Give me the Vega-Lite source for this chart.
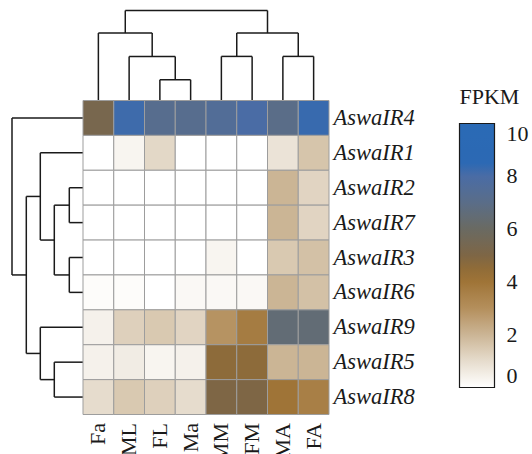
{
  "$schema": "https://vega.github.io/schema/vega-lite/v6.json",
  "padding": {"left": 11, "top": 9.5, "right": 2, "bottom": 0},
  "background": "white",
  "config": {"view": {"stroke": null}, "font": "Liberation Serif"},
  "datasets": {
    "heat": [
      {"gene": "AswaIR4", "tissue": "Fa", "fpkm": 5.3}, {"gene": "AswaIR4", "tissue": "ML", "fpkm": 8.2}, {"gene": "AswaIR4", "tissue": "FL", "fpkm": 7.2}, {"gene": "AswaIR4", "tissue": "Ma", "fpkm": 7.2}, {"gene": "AswaIR4", "tissue": "MM", "fpkm": 7.5}, {"gene": "AswaIR4", "tissue": "FM", "fpkm": 8.0}, {"gene": "AswaIR4", "tissue": "MA", "fpkm": 7.0}, {"gene": "AswaIR4", "tissue": "FA", "fpkm": 8.3},
      {"gene": "AswaIR1", "tissue": "Fa", "fpkm": 0}, {"gene": "AswaIR1", "tissue": "ML", "fpkm": 0.3}, {"gene": "AswaIR1", "tissue": "FL", "fpkm": 1.1}, {"gene": "AswaIR1", "tissue": "Ma", "fpkm": 0}, {"gene": "AswaIR1", "tissue": "MM", "fpkm": 0}, {"gene": "AswaIR1", "tissue": "FM", "fpkm": 0}, {"gene": "AswaIR1", "tissue": "MA", "fpkm": 0.8}, {"gene": "AswaIR1", "tissue": "FA", "fpkm": 1.6},
      {"gene": "AswaIR2", "tissue": "Fa", "fpkm": 0}, {"gene": "AswaIR2", "tissue": "ML", "fpkm": 0}, {"gene": "AswaIR2", "tissue": "FL", "fpkm": 0}, {"gene": "AswaIR2", "tissue": "Ma", "fpkm": 0}, {"gene": "AswaIR2", "tissue": "MM", "fpkm": 0}, {"gene": "AswaIR2", "tissue": "FM", "fpkm": 0}, {"gene": "AswaIR2", "tissue": "MA", "fpkm": 2.0}, {"gene": "AswaIR2", "tissue": "FA", "fpkm": 1.2},
      {"gene": "AswaIR7", "tissue": "Fa", "fpkm": 0}, {"gene": "AswaIR7", "tissue": "ML", "fpkm": 0}, {"gene": "AswaIR7", "tissue": "FL", "fpkm": 0}, {"gene": "AswaIR7", "tissue": "Ma", "fpkm": 0}, {"gene": "AswaIR7", "tissue": "MM", "fpkm": 0}, {"gene": "AswaIR7", "tissue": "FM", "fpkm": 0}, {"gene": "AswaIR7", "tissue": "MA", "fpkm": 2.0}, {"gene": "AswaIR7", "tissue": "FA", "fpkm": 1.2},
      {"gene": "AswaIR3", "tissue": "Fa", "fpkm": 0}, {"gene": "AswaIR3", "tissue": "ML", "fpkm": 0}, {"gene": "AswaIR3", "tissue": "FL", "fpkm": 0}, {"gene": "AswaIR3", "tissue": "Ma", "fpkm": 0}, {"gene": "AswaIR3", "tissue": "MM", "fpkm": 0.3}, {"gene": "AswaIR3", "tissue": "FM", "fpkm": 0}, {"gene": "AswaIR3", "tissue": "MA", "fpkm": 1.5}, {"gene": "AswaIR3", "tissue": "FA", "fpkm": 1.7},
      {"gene": "AswaIR6", "tissue": "Fa", "fpkm": 0.1}, {"gene": "AswaIR6", "tissue": "ML", "fpkm": 0.1}, {"gene": "AswaIR6", "tissue": "FL", "fpkm": 0}, {"gene": "AswaIR6", "tissue": "Ma", "fpkm": 0.2}, {"gene": "AswaIR6", "tissue": "MM", "fpkm": 0.2}, {"gene": "AswaIR6", "tissue": "FM", "fpkm": 0.2}, {"gene": "AswaIR6", "tissue": "MA", "fpkm": 2.0}, {"gene": "AswaIR6", "tissue": "FA", "fpkm": 1.7},
      {"gene": "AswaIR9", "tissue": "Fa", "fpkm": 0.4}, {"gene": "AswaIR9", "tissue": "ML", "fpkm": 1.3}, {"gene": "AswaIR9", "tissue": "FL", "fpkm": 1.5}, {"gene": "AswaIR9", "tissue": "Ma", "fpkm": 1.2}, {"gene": "AswaIR9", "tissue": "MM", "fpkm": 2.9}, {"gene": "AswaIR9", "tissue": "FM", "fpkm": 3.7}, {"gene": "AswaIR9", "tissue": "MA", "fpkm": 6.5}, {"gene": "AswaIR9", "tissue": "FA", "fpkm": 6.5},
      {"gene": "AswaIR5", "tissue": "Fa", "fpkm": 0.4}, {"gene": "AswaIR5", "tissue": "ML", "fpkm": 0.55}, {"gene": "AswaIR5", "tissue": "FL", "fpkm": 0.3}, {"gene": "AswaIR5", "tissue": "Ma", "fpkm": 0.4}, {"gene": "AswaIR5", "tissue": "MM", "fpkm": 4.6}, {"gene": "AswaIR5", "tissue": "FM", "fpkm": 4.6}, {"gene": "AswaIR5", "tissue": "MA", "fpkm": 2.0}, {"gene": "AswaIR5", "tissue": "FA", "fpkm": 2.0},
      {"gene": "AswaIR8", "tissue": "Fa", "fpkm": 1.0}, {"gene": "AswaIR8", "tissue": "ML", "fpkm": 1.5}, {"gene": "AswaIR8", "tissue": "FL", "fpkm": 1.3}, {"gene": "AswaIR8", "tissue": "Ma", "fpkm": 1.0}, {"gene": "AswaIR8", "tissue": "MM", "fpkm": 5.0}, {"gene": "AswaIR8", "tissue": "FM", "fpkm": 5.0}, {"gene": "AswaIR8", "tissue": "MA", "fpkm": 4.0}, {"gene": "AswaIR8", "tissue": "FA", "fpkm": 3.6}
    ],
    "coldendro": [
      {"x1": 2.5, "x2": 2.5, "y1": 0, "y2": 20.7},
      {"x1": 3.5, "x2": 3.5, "y1": 0, "y2": 20.7},
      {"x1": 2.5, "x2": 3.5, "y1": 20.7, "y2": 20.7},
      {"x1": 1.5, "x2": 1.5, "y1": 0, "y2": 44},
      {"x1": 3.0, "x2": 3.0, "y1": 20.7, "y2": 44},
      {"x1": 1.5, "x2": 3.0, "y1": 44, "y2": 44},
      {"x1": 0.5, "x2": 0.5, "y1": 0, "y2": 67.3},
      {"x1": 2.25, "x2": 2.25, "y1": 44, "y2": 67.3},
      {"x1": 0.5, "x2": 2.25, "y1": 67.3, "y2": 67.3},
      {"x1": 4.5, "x2": 4.5, "y1": 0, "y2": 44},
      {"x1": 5.5, "x2": 5.5, "y1": 0, "y2": 44},
      {"x1": 4.5, "x2": 5.5, "y1": 44, "y2": 44},
      {"x1": 6.5, "x2": 6.5, "y1": 0, "y2": 44},
      {"x1": 7.5, "x2": 7.5, "y1": 0, "y2": 44},
      {"x1": 6.5, "x2": 7.5, "y1": 44, "y2": 44},
      {"x1": 5.0, "x2": 5.0, "y1": 44, "y2": 67.3},
      {"x1": 7.0, "x2": 7.0, "y1": 44, "y2": 67.3},
      {"x1": 5.0, "x2": 7.0, "y1": 67.3, "y2": 67.3},
      {"x1": 1.375, "x2": 1.375, "y1": 67.3, "y2": 89.8},
      {"x1": 6.0, "x2": 6.0, "y1": 67.3, "y2": 89.8},
      {"x1": 1.375, "x2": 6.0, "y1": 89.8, "y2": 89.8}
    ],
    "rowdendro": [
      {"h1": 0, "h2": 13.7, "r1": 2.5, "r2": 2.5},
      {"h1": 0, "h2": 13.7, "r1": 3.5, "r2": 3.5},
      {"h1": 13.7, "h2": 13.7, "r1": 2.5, "r2": 3.5},
      {"h1": 0, "h2": 13.7, "r1": 4.5, "r2": 4.5},
      {"h1": 0, "h2": 13.7, "r1": 5.5, "r2": 5.5},
      {"h1": 13.7, "h2": 13.7, "r1": 4.5, "r2": 5.5},
      {"h1": 13.7, "h2": 28.7, "r1": 3.0, "r2": 3.0},
      {"h1": 13.7, "h2": 28.7, "r1": 5.0, "r2": 5.0},
      {"h1": 28.7, "h2": 28.7, "r1": 3.0, "r2": 5.0},
      {"h1": 0, "h2": 42.7, "r1": 1.5, "r2": 1.5},
      {"h1": 28.7, "h2": 42.7, "r1": 4.0, "r2": 4.0},
      {"h1": 42.7, "h2": 42.7, "r1": 1.5, "r2": 4.0},
      {"h1": 0, "h2": 28.7, "r1": 7.5, "r2": 7.5},
      {"h1": 0, "h2": 28.7, "r1": 8.5, "r2": 8.5},
      {"h1": 28.7, "h2": 28.7, "r1": 7.5, "r2": 8.5},
      {"h1": 0, "h2": 42.7, "r1": 6.5, "r2": 6.5},
      {"h1": 28.7, "h2": 42.7, "r1": 8.0, "r2": 8.0},
      {"h1": 42.7, "h2": 42.7, "r1": 6.5, "r2": 8.0},
      {"h1": 42.7, "h2": 56.7, "r1": 2.75, "r2": 2.75},
      {"h1": 42.7, "h2": 56.7, "r1": 7.25, "r2": 7.25},
      {"h1": 56.7, "h2": 56.7, "r1": 2.75, "r2": 7.25},
      {"h1": 0, "h2": 71, "r1": 0.5, "r2": 0.5},
      {"h1": 56.7, "h2": 71, "r1": 5.0, "r2": 5.0},
      {"h1": 71, "h2": 71, "r1": 0.5, "r2": 5.0}
    ]
  },
  "columns": 2,
  "spacing": 0,
  "align": "each",
  "bounds": "flush",
  "concat": [
    {
      "width": 71,
      "height": 90,
      "data": {"values": []},
      "mark": {"type": "rect", "opacity": 0},
      "encoding": {}
    },
    {
      "width": 246,
      "height": 90,
      "data": {"name": "coldendro"},
      "mark": {"type": "rule", "color": "#1a1a1a", "strokeWidth": 1.5},
      "encoding": {
        "x": {"field": "x1", "type": "quantitative", "scale": {"domain": [0, 8], "nice": false, "zero": false}, "axis": null},
        "x2": {"field": "x2"},
        "y": {"field": "y1", "type": "quantitative", "scale": {"domain": [0, 89.8], "nice": false, "zero": false}, "axis": null},
        "y2": {"field": "y2"}
      }
    },
    {
      "width": 71,
      "height": 314,
      "data": {"name": "rowdendro"},
      "mark": {"type": "rule", "color": "#1a1a1a", "strokeWidth": 1.5},
      "encoding": {
        "x": {"field": "h1", "type": "quantitative", "scale": {"domain": [0, 71], "nice": false, "zero": false, "reverse": true}, "axis": null},
        "x2": {"field": "h2"},
        "y": {"field": "r1", "type": "quantitative", "scale": {"domain": [0, 9], "nice": false, "zero": false, "reverse": true}, "axis": null},
        "y2": {"field": "r2"}
      }
    },
    {
      "width": 246,
      "height": 314,
      "data": {"name": "heat"},
      "mark": {"type": "rect", "stroke": "#9d9d9d", "strokeWidth": 1},
      "encoding": {
        "x": {
          "field": "tissue", "type": "nominal",
          "sort": ["Fa", "ML", "FL", "Ma", "MM", "FM", "MA", "FA"],
          "scale": {"paddingInner": 0, "paddingOuter": 0},
          "axis": {"title": null, "orient": "bottom", "labelAngle": -90, "labelPadding": 8, "ticks": false, "domain": false, "labelFont": "Liberation Serif", "labelFontSize": 22, "labelColor": "#1a1a1a"}
        },
        "y": {
          "field": "gene", "type": "nominal",
          "sort": ["AswaIR4", "AswaIR1", "AswaIR2", "AswaIR7", "AswaIR3", "AswaIR6", "AswaIR9", "AswaIR5", "AswaIR8"],
          "scale": {"paddingInner": 0, "paddingOuter": 0},
          "axis": {"title": null, "orient": "right", "ticks": false, "domain": false, "labelPadding": 4, "labelFont": "Liberation Serif", "labelFontSize": 22.5, "labelFontStyle": "italic", "labelColor": "#1a1a1a"}
        },
        "color": {
          "field": "fpkm", "type": "quantitative",
          "scale": {
            "domain": [0, 1, 2, 3, 4.2, 5, 6, 7, 8, 8.5, 10],
            "range": ["#ffffff", "#e6dccd", "#cbb595", "#b48f5c", "#9b6f30", "#7e6645", "#6a6a62", "#5a6d88", "#4a6ca5", "#2c69b4", "#2a6ab5"],
            "interpolate": "rgb"
          },
          "legend": {
            "title": "FPKM", "orient": "none", "legendX": 447.5, "legendY": 76, "direction": "vertical",
            "gradientLength": 264, "gradientThickness": 35, "gradientStrokeColor": "#1a1a1a", "gradientStrokeWidth": 1.2,
            "values": [0, 2, 4, 6, 8, 10], "labelOverlap": false,
            "labelFont": "Liberation Serif", "labelFontSize": 22, "labelOffset": 12, "labelBaseline": "middle", "labelColor": "#1a1a1a",
            "titleFont": "Liberation Serif", "titleFontSize": 22, "titleFontWeight": "normal", "titleColor": "#1a1a1a", "titlePadding": 15,
            "titleAnchor": "start", "titleAlign": "left"
          }
        }
      }
    }
  ]
}
